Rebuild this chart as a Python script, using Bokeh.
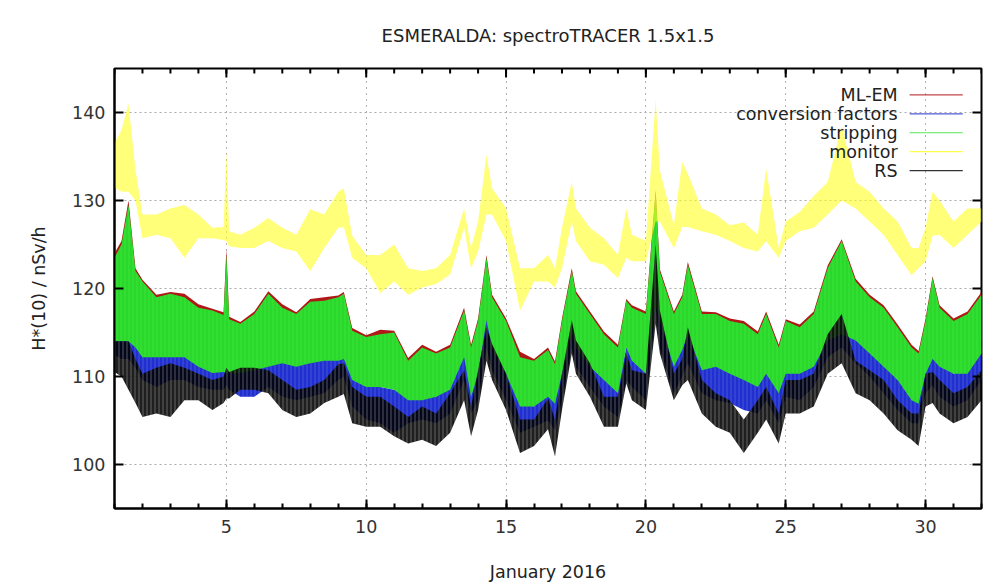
from bokeh.plotting import figure
from bokeh.models import FixedTicker, Range1d, Label, Arrow, ColumnDataSource
from bokeh.embed import file_html
from bokeh.resources import INLINE

# time in days of January 2016
t = [1.0, 1.25, 1.5, 1.75, 2.0, 2.5, 3.0, 3.5, 4.0, 4.5, 4.9, 5.0, 5.1, 5.5, 6.0, 6.5,
     7.0, 7.5, 8.0, 8.5, 9.0, 9.2, 9.5, 10.0, 10.5, 11.0, 11.5, 12.0, 12.5, 13.0, 13.5,
     13.75, 14.0, 14.3, 14.5, 15.0, 15.5, 16.0, 16.5, 16.75, 17.0, 17.35, 17.5, 18.0,
     18.5, 19.0, 19.3, 19.5, 20.0, 20.35, 20.5, 21.0, 21.3, 21.5, 22.0, 22.5, 23.0, 23.5,
     24.0, 24.3, 24.75, 25.0, 25.5, 26.0, 26.5, 27.0, 27.5, 28.0, 28.5, 29.0, 29.5,
     29.75, 30.0, 30.25, 30.5, 31.0, 31.5, 32.0]

# monitor (low / high envelope, nSv/h)
monitor_lo = [131.5, 131.0, 131.0, 130.0, 125.7, 126.1, 125.7, 123.5, 125.7, 125.7, 125.5, 125.4, 124.8, 124.6, 124.6, 125.4,
              124.6, 124.2, 122.0, 124.6, 126.9, 127.0, 123.5, 122.3, 119.5, 120.8, 119.3, 120.1, 120.5, 121.6, 126.9,
              122.3, 124.2, 128.4, 128.4, 125.4, 117.5, 120.8, 120.8, 120.1, 122.3, 127.6, 125.4, 123.1,
              122.7, 121.2, 123.5, 123.1, 123.1, 127.6, 127.6, 124.6, 127.0, 127.0, 126.5, 126.1, 125.4, 124.6,
              124.2, 125.4, 123.5, 125.4, 126.5, 126.9, 128.4, 130.0, 129.1, 127.6, 126.1, 123.8, 121.5,
              122.3, 123.1, 126.0, 126.1, 124.6, 126.1, 127.6]
monitor_hi = [136.5, 138.0, 141.0, 133.5, 128.4, 128.4, 129.1, 129.5, 128.4, 126.9, 127.0, 135.5, 126.5, 126.1, 126.9, 128.0,
              126.9, 126.1, 129.0, 128.4, 131.0, 131.4, 126.0, 123.8, 123.8, 125.0, 122.3, 122.0, 122.3, 123.8, 129.1,
              124.6, 127.6, 135.2, 131.4, 129.1, 122.3, 122.3, 123.8, 122.3, 126.9, 132.1, 129.1, 126.9,
              125.7, 123.8, 129.1, 126.1, 125.4, 141.5, 133.4, 127.2, 134.4, 133.0, 129.1, 128.4, 127.2, 127.5,
              126.1, 133.6, 124.6, 127.6, 128.7, 130.5, 132.1, 138.5, 132.1, 131.0, 129.1, 127.6, 124.6,
              124.6, 126.9, 131.0, 130.0, 127.6, 129.1, 129.1]

# stripping
strip_lo = [114.0, 114.0, 114.0, 113.3, 112.2, 112.2, 112.2, 112.2, 111.1, 110.4, 110.5, 110.4, 110.4, 110.4, 110.7, 111.1,
            111.5, 111.1, 111.5, 111.8, 111.8, 112.0, 109.6, 108.8, 108.8, 108.5, 107.3, 107.3, 107.7, 108.5, 112.2,
            107.7, 110.3, 116.4, 113.3, 110.3, 106.6, 106.6, 107.7, 106.9, 110.3, 115.0, 113.3, 111.1,
            109.6, 108.1, 113.3, 111.8, 110.3, 118.0, 116.4, 111.1, 113.0, 114.8, 110.7, 111.1, 110.3, 109.6,
            108.8, 110.3, 108.1, 110.3, 110.3, 111.1, 114.1, 114.8, 114.1, 112.6, 111.1, 109.6, 107.3,
            106.9, 110.3, 112.0, 111.1, 110.3, 110.3, 112.6]
strip_hi = [123.5, 125.0, 129.5, 122.0, 120.8, 119.0, 119.4, 119.0, 117.8, 117.5, 117.0, 123.8, 116.5, 116.0, 117.1, 119.4,
            117.8, 117.1, 118.5, 118.6, 119.0, 119.4, 115.2, 114.5, 114.8, 115.0, 111.8, 113.3, 112.6, 113.3, 117.5,
            113.3, 116.3, 123.5, 119.0, 116.3, 112.2, 111.8, 113.0, 111.4, 116.3, 122.0, 119.4, 117.1,
            114.8, 113.3, 118.6, 117.8, 117.1, 131.0, 121.9, 117.1, 119.0, 122.7, 117.1, 117.1, 116.3, 116.0,
            114.8, 117.1, 113.3, 116.3, 115.6, 117.1, 122.3, 125.4, 120.8, 119.0, 117.8, 115.6, 113.3,
            112.6, 116.3, 121.2, 117.8, 116.3, 117.1, 119.3]

# ML-EM
mlem_lo = [115.5, 115.5, 115.5, 114.8, 113.7, 113.7, 113.7, 113.7, 112.6, 111.9, 112.0, 111.9, 111.9, 111.9, 112.2, 112.6,
           113.0, 112.6, 113.0, 113.3, 113.3, 113.5, 111.1, 110.3, 110.3, 110.0, 108.8, 108.8, 109.2, 110.0, 113.7,
           109.2, 111.8, 117.9, 114.8, 111.8, 108.1, 108.1, 109.2, 108.4, 111.8, 116.5, 114.8, 112.6,
           111.1, 109.6, 114.8, 113.3, 111.8, 119.5, 117.9, 112.6, 114.5, 116.3, 112.2, 112.6, 111.8, 111.1,
           110.3, 111.8, 109.6, 111.8, 111.8, 112.6, 115.6, 116.3, 115.6, 114.1, 112.6, 111.1, 108.8,
           108.4, 111.8, 113.5, 112.6, 111.8, 111.8, 114.1]
mlem_hi = [124.0, 125.4, 130.0, 122.3, 121.0, 119.3, 119.6, 119.4, 118.2, 117.7, 117.3, 124.5, 116.8, 116.2, 117.4, 119.7,
           118.2, 117.3, 118.8, 119.0, 119.2, 119.6, 115.5, 114.7, 115.3, 115.2, 112.1, 113.6, 112.8, 113.6, 117.8,
           113.6, 116.6, 123.8, 119.3, 116.6, 112.8, 112.0, 113.3, 111.7, 116.6, 122.3, 119.7, 117.4,
           115.1, 113.6, 118.8, 118.1, 117.4, 131.2, 122.2, 117.4, 119.3, 123.0, 117.4, 117.3, 116.6, 116.3,
           115.1, 117.4, 113.6, 116.5, 115.9, 117.4, 122.6, 125.6, 121.1, 119.3, 118.1, 115.9, 113.6,
           112.9, 116.6, 121.4, 118.1, 116.6, 117.4, 119.6]

# conversion factors
conv_lo = [112.5, 112.0, 112.0, 111.0, 109.6, 108.8, 109.6, 109.6, 108.8, 108.5, 108.5, 109.0, 108.5, 107.7, 107.7, 108.8,
           107.7, 107.3, 107.7, 108.1, 109.6, 110.0, 106.6, 105.1, 104.7, 103.6, 104.7, 105.1, 104.7, 105.8, 109.6,
           105.8, 107.3, 113.3, 110.7, 107.3, 103.6, 104.3, 105.0, 103.9, 107.3, 113.3, 111.1, 108.8,
           106.6, 105.4, 109.6, 108.8, 107.3, 118.0, 113.3, 108.1, 110.0, 111.5, 108.1, 107.3, 107.0, 106.2,
           105.8, 107.3, 104.7, 107.7, 107.3, 108.8, 112.2, 113.3, 111.5, 110.0, 108.1, 106.2, 104.7,
           104.7, 108.1, 109.0, 107.7, 106.6, 107.3, 109.6]
conv_hi = [117.0, 118.0, 119.0, 115.0, 114.0, 113.3, 114.1, 113.3, 112.6, 112.2, 112.0, 115.0, 112.0, 111.4, 112.0, 112.6,
           111.8, 111.4, 111.8, 112.6, 113.7, 114.0, 110.3, 109.6, 108.8, 108.5, 107.7, 108.1, 107.7, 109.2, 112.6,
           109.6, 111.1, 117.1, 114.1, 111.5, 107.3, 106.6, 108.5, 107.3, 111.5, 117.0, 115.2, 112.6,
           110.3, 108.8, 113.3, 112.6, 111.5, 125.0, 119.0, 112.2, 114.0, 117.1, 112.2, 111.8, 111.0, 110.3,
           109.6, 111.1, 108.8, 111.5, 111.1, 113.3, 117.1, 117.8, 115.6, 113.3, 111.5, 109.6, 108.5,
           107.7, 112.6, 113.0, 111.8, 110.3, 111.1, 113.3]

# RS
rs_lo = [110.5, 110.0, 108.5, 107.0, 105.4, 105.8, 105.4, 107.3, 107.3, 106.2, 107.0, 107.5, 107.5, 108.5, 108.5, 108.1,
         106.2, 105.4, 105.8, 107.0, 107.7, 108.0, 104.7, 104.3, 104.3, 103.2, 102.4, 102.8, 102.1, 103.6, 107.3,
         103.2, 106.2, 111.8, 109.6, 106.2, 101.3, 102.1, 104.0, 100.9, 106.2, 112.6, 110.3, 107.7,
         104.3, 104.3, 109.2, 107.3, 106.2, 116.0, 112.6, 107.3, 109.0, 109.6, 105.8, 104.3, 103.6, 101.3,
         103.6, 105.1, 102.4, 105.8, 105.8, 106.6, 110.3, 111.5, 108.1, 107.3, 105.8, 103.9, 102.8,
         102.1, 106.6, 107.0, 105.8, 104.7, 105.4, 107.3]
rs_hi = [114.0, 114.0, 114.0, 112.0, 110.3, 111.0, 111.5, 111.0, 110.3, 109.6, 110.0, 111.0, 110.5, 111.0, 111.0, 110.7,
         109.6, 108.5, 108.8, 109.6, 111.4, 111.5, 108.8, 107.7, 107.7, 106.6, 105.4, 106.6, 105.8, 108.1, 110.7,
         106.6, 110.7, 115.6, 113.7, 110.3, 105.1, 105.1, 107.5, 105.1, 110.3, 116.4, 114.1, 111.5,
         107.7, 107.7, 112.6, 110.7, 110.3, 125.0, 117.5, 110.3, 112.0, 115.6, 109.6, 108.1, 107.3, 105.1,
         107.3, 108.8, 105.8, 109.6, 109.6, 110.3, 114.8, 117.1, 111.8, 110.7, 109.6, 107.3, 105.8,
         105.8, 110.3, 110.5, 109.6, 108.1, 108.8, 110.7]

series_names = ["ML-EM", "conversion factors", "stripping", "monitor", "RS"]
series_colors = ["#b01818", "#2030d0", "#30e030", "#ffff20", "#000000"]
x_ticks = [5, 10, 15, 20, 25, 30]
x_minor = list(range(1, 33))
y_ticks = [100, 110, 120, 130, 140]
title_text = "ESMERALDA: spectroTRACER 1.5x1.5"

X0, X1, Y0, Y1 = 1, 32, 95, 145

src = ColumnDataSource(dict(t=t, monitor_lo=monitor_lo, monitor_hi=monitor_hi,
                            strip_lo=strip_lo, strip_hi=strip_hi, mlem_lo=mlem_lo, mlem_hi=mlem_hi,
                            conv_lo=conv_lo, conv_hi=conv_hi, rs_lo=rs_lo, rs_hi=rs_hi))

FONT = "DejaVu Sans"
FS = "17.5px"
W, H = 990, 584
ML, MR, MT, MB = 114, 9, 67, 74
p = figure(width=W, height=H, output_backend="svg", toolbar_location=None,
           x_range=Range1d(X0, X1), y_range=Range1d(Y0, Y1),
           min_border_left=ML, min_border_right=MR, min_border_top=MT, min_border_bottom=MB)
p.background_fill_color = "white"
p.border_fill_color = "white"
p.outline_line_color = "black"
p.outline_line_width = 2

p.title.text = title_text
p.title.align = "center"
p.title.text_font = FONT
p.title.text_font_size = "18px"
p.title.text_font_style = "normal"
p.title.text_color = "#222222"
p.title.standoff = 45

fw = W - ML - MR
fh = H - MT - MB

pairs = [("mlem_lo", "mlem_hi"), ("conv_lo", "conv_hi"), ("strip_lo", "strip_hi"),
         ("monitor_lo", "monitor_hi"), ("rs_lo", "rs_hi")]
alphas = [1.0, 1.0, 1.0, 0.6, 0.88]
hatch_colors = [None, "#9090e8", "#109a10", None, "#ffffff"]
hatch_alphas = [0.0, 0.35, 0.3, 0.0, 0.3]
for (lo, hi), c, a, hc, ha in zip(pairs, series_colors, alphas, hatch_colors, hatch_alphas):
    if hc is None:
        p.varea(x="t", y1=lo, y2=hi, source=src, fill_color=c, fill_alpha=a)
    else:
        p.varea(x="t", y1=lo, y2=hi, source=src, fill_color=c, fill_alpha=a,
                hatch_pattern="vertical_line", hatch_color=hc, hatch_alpha=ha,
                hatch_scale=4, hatch_weight=1)

xa = p.below[0]
ya = p.left[0]
xa.ticker = FixedTicker(ticks=x_ticks, minor_ticks=x_minor)
ya.ticker = FixedTicker(ticks=y_ticks, minor_ticks=[])
xa.axis_label = "January 2016"
ya.axis_label = "H*(10) / nSv/h"

for ax in [xa, ya]:
    ax.major_tick_in = 9
    ax.major_tick_out = 0
    ax.minor_tick_in = 5
    ax.minor_tick_out = 0
    ax.major_tick_line_width = 2
    ax.minor_tick_line_width = 2
    ax.axis_line_width = 2
    ax.axis_line_color = "black"
    ax.major_label_text_font = FONT
    ax.major_label_text_font_size = FS
    ax.major_label_text_color = "#333333"
    ax.axis_label_text_font = FONT
    ax.axis_label_text_font_size = FS
    ax.axis_label_text_font_style = "normal"
    ax.axis_label_text_color = "#222222"
xa.major_label_standoff = 11
xa.axis_label_standoff = 26
ya.major_label_standoff = 9
ya.axis_label_standoff = 20

p.xgrid.grid_line_color = "#666666"
p.xgrid.grid_line_dash = "1 5"
p.ygrid.grid_line_color = "#aaaaaa"
p.ygrid.grid_line_dash = "2 3"

# mirrored inward ticks on the top and right frame edges (gnuplot style)
dx_per_px = (X1 - X0) / fw
dy_per_px = (Y1 - Y0) / fh
p.segment(x0=x_ticks, y0=[Y1] * len(x_ticks), x1=x_ticks, y1=[Y1 - 9 * dy_per_px] * len(x_ticks),
          line_color="black", line_width=2)
p.segment(x0=x_minor, y0=[Y1] * len(x_minor), x1=x_minor, y1=[Y1 - 5 * dy_per_px] * len(x_minor),
          line_color="black", line_width=2)
p.segment(x0=[X1] * len(y_ticks), y0=y_ticks, x1=[X1 - 9 * dx_per_px] * len(y_ticks), y1=y_ticks,
          line_color="black", line_width=2)

# gnuplot-style key: text right-aligned, sample line to its right
key_y = [142.0, 139.85, 137.7, 135.55, 133.4]
for name, c, ky in zip(series_names, series_colors, key_y):
    p.add_layout(Label(x=29.0, y=ky, text=name, text_align="right", text_baseline="middle",
                       text_font=FONT, text_font_size=FS, text_color="#222222"))
    p.add_layout(Arrow(x_start=29.43, y_start=ky, x_end=31.33, y_end=ky, end=None,
                       line_color=c, line_width=1.2, line_alpha=0.8))

open("out.html", "w").write(file_html(p, INLINE))
